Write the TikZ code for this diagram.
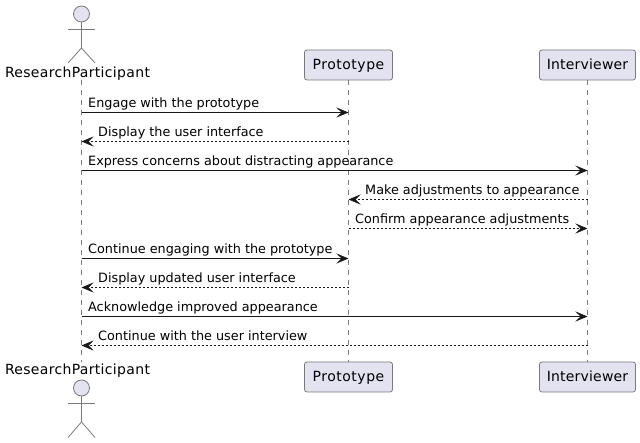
\documentclass[tikz,border=0pt]{standalone}
\usepackage{fontspec}
\setmainfont{DejaVu Sans}
\usetikzlibrary{arrows.meta,calc}
\definecolor{pfill}{HTML}{E2E2F0}
\definecolor{pline}{HTML}{181818}
\definecolor{lgray}{HTML}{7A7A7A}
\tikzset{
  x=1pt,y=-1pt,
  partbox/.style={draw=lgray,line width=0.8pt,fill=pfill,rounded corners=2.5pt,minimum height=30pt,inner sep=0pt,text height=13pt,text depth=3pt,text=black},
  partname/.style={inner sep=0pt,anchor=base,text=black},
  lifeline/.style={draw=lgray,line width=0.7pt,dash pattern=on 5pt off 5pt},
  actorline/.style={draw=lgray,line width=0.8pt},
  actorhead/.style={draw=lgray,line width=0.8pt,fill=pfill,circle,minimum size=16pt,inner sep=0pt},
  msg/.style={inner sep=0pt,anchor=base west,font=\fontsize{12.8}{15}\selectfont,text=black},
  solidmsg/.style={draw=pline,line width=0.8pt,-{Stealth[length=12pt,width=10pt,inset=5pt]}},
  dashmsg/.style={draw=pline,line width=0.7pt,dash pattern=on 2pt off 2pt,-{Stealth[length=12pt,width=10pt,inset=5pt,line width=0.7pt,sep=0pt]}},
}
\newfontfamily\fproto[LetterSpace=3.6]{DejaVu Sans}
\newfontfamily\finter[LetterSpace=1.4]{DejaVu Sans}
\newfontfamily\fname[LetterSpace=2.3]{DejaVu Sans}
\newcommand{\protofont}{\fproto\fontsize{14}{16}\selectfont}
\newcommand{\interfont}{\finter\fontsize{14}{16}\selectfont}
\newcommand{\namefont}{\fname\fontsize{14}{16}\selectfont}
\begin{document}
\begin{tikzpicture}
\useasboundingbox (0,0) rectangle (640,443);
\fill[white] (0,0) rectangle (640,443);
% lifeline ends
\coordinate (rpT) at (81.5,80);
\coordinate (rpB) at (81.5,362);
\coordinate (prT) at (348.5,80);
\coordinate (prB) at (348.5,362);
\coordinate (inT) at (587.5,80);
\coordinate (inB) at (587.5,362);
\draw[lifeline] (rpT) -- (rpB);
\draw[lifeline] (prT) -- (prB);
\draw[lifeline] (inT) -- (inB);
% participants
\node[partbox,minimum width=88pt,font=\protofont] (protoTop) at (348.5,65) {Prototype};
\node[partbox,minimum width=96pt,font=\interfont] (interTop) at (587.5,65) {Interviewer};
\node[partbox,minimum width=88pt,font=\protofont] (protoBot) at (348.5,377) {Prototype};
\node[partbox,minimum width=96pt,font=\interfont] (interBot) at (587.5,377) {Interviewer};
% actors
\node[actorhead] (headTop) at (81.5,14) {};
\coordinate (hipTop) at (81.5,48);
\coordinate (armLTop) at (68,29);
\coordinate (armRTop) at (95,29);
\coordinate (footLTop) at (68,63);
\coordinate (footRTop) at (95,63);
\draw[actorline] (headTop.south) -- (hipTop);
\draw[actorline] (armLTop) -- (armRTop);
\draw[actorline] (footLTop) -- (hipTop) -- (footRTop);
\node[partname,font=\namefont] (nameTop) at (77.5,78) {ResearchParticipant};
\node[partname,font=\namefont] (nameBot) at (77.5,375) {ResearchParticipant};
\node[actorhead] (headBot) at (81.5,388) {};
\coordinate (hipBot) at (81.5,422);
\coordinate (armLBot) at (68,403);
\coordinate (armRBot) at (95,403);
\coordinate (footLBot) at (68,437.5);
\coordinate (footRBot) at (95,437.5);
\draw[actorline] (headBot.south) -- (hipBot);
\draw[actorline] (armLBot) -- (armRBot);
\draw[actorline] (footLBot) -- (hipBot) -- (footRBot);
% message levels
\coordinate (m1) at (0,112.5);
\coordinate (m2) at (0,141.5);
\coordinate (m3) at (0,170.5);
\coordinate (m4) at (0,199.5);
\coordinate (m5) at (0,228.5);
\coordinate (m6) at (0,258.5);
\coordinate (m7) at (0,287.5);
\coordinate (m8) at (0,316.5);
\coordinate (m9) at (0,345.5);
\draw[solidmsg] (rpT |- m1) -- (prT |- m1);
\draw[dashmsg] (prT |- m2) -- (rpT |- m2);
\draw[solidmsg] (rpT |- m3) -- (inT |- m3);
\draw[dashmsg] (inT |- m4) -- (prT |- m4);
\draw[dashmsg] (prT |- m5) -- (inT |- m5);
\draw[solidmsg] (rpT |- m6) -- (prT |- m6);
\draw[dashmsg] (prT |- m7) -- (rpT |- m7);
\draw[solidmsg] (rpT |- m8) -- (inT |- m8);
\draw[dashmsg] (inT |- m9) -- (rpT |- m9);
% labels
\node[msg] (t1) at (88,108) {Engage with the prototype};
\node[msg] (t2) at (98,137) {Display the user interface};
\node[msg] (t3) at (88,166) {Express concerns about distracting appearance};
\node[msg] (t4) at (365,195) {Make adjustments to appearance};
\node[msg] (t5) at (355,224) {Confirm appearance adjustments};
\node[msg] (t6) at (88,254) {Continue engaging with the prototype};
\node[msg] (t7) at (98,283) {Display updated user interface};
\node[msg] (t8) at (88,312) {Acknowledge improved appearance};
\node[msg] (t9) at (98,341) {Continue with the user interview};
\end{tikzpicture}
\end{document}
